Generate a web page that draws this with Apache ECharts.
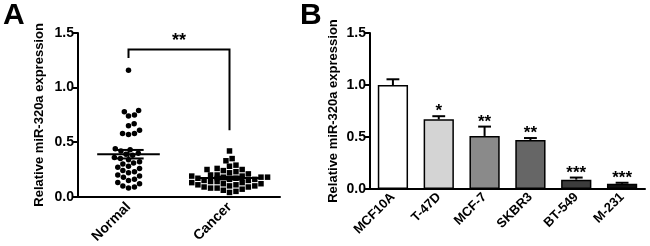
<!DOCTYPE html>
<head>
    <meta charset="utf-8">
    <title>miR-320a expression</title>
    <style>
        html, body { width: 100%; height: 100%; margin: 0; background: #fff; }
        #main { width: 650px; height: 246px; }
    </style>
</head>
<body>
<div id="main"></div>
<script src="https://cdn.jsdelivr.net/npm/echarts@6/dist/echarts.min.js"></script>
<script type="text/javascript">
  // panel A: individual samples
  var groups = ['Normal', 'Cancer'];
  var normalVals = [1.16, 0.79, 0.78, 0.75, 0.74, 0.67, 0.65, 0.61, 0.58, 0.58, 0.57,
    0.44, 0.43, 0.42, 0.40, 0.39, 0.38, 0.36, 0.35, 0.34, 0.32,
    0.31, 0.30, 0.28, 0.27, 0.26, 0.24, 0.23, 0.22, 0.20, 0.19,
    0.18, 0.16, 0.15, 0.13, 0.12, 0.10, 0.09, 0.08];
  var cancerVals = [0.42, 0.35, 0.33, 0.29, 0.28, 0.26, 0.25, 0.25, 0.24, 0.23,
    0.22, 0.21, 0.20, 0.20, 0.19, 0.19, 0.18, 0.18, 0.18, 0.17,
    0.17, 0.16, 0.16, 0.15, 0.15, 0.14, 0.14, 0.13, 0.13, 0.12,
    0.12, 0.11, 0.11, 0.10, 0.10, 0.09, 0.09, 0.08, 0.08, 0.07,
    0.06, 0.05, 0.04];
  // bracket: [from group, to group, top, left leg end, right leg end]
  var bracketA = [1, 2, 1.35, 1.27, 0.61];
  var bracketText = '**';

  // panel B: cell lines
  var cellLines = ['MCF10A', 'T-47D', 'MCF-7', 'SKBR3', 'BT-549', 'M-231'];
  var cellMeans = [1.00, 0.67, 0.51, 0.47, 0.09, 0.05];
  var cellErr = [0.055, 0.03, 0.09, 0.02, 0.02, 0.01];
  var cellStars = ['', '*', '**', '**', '***', '***'];
  var barColors = ['#ffffff', '#d4d4d4', '#8a8a8a', '#666666', '#3c3c3c', '#111111'];

  var myChart = echarts.init(document.getElementById('main'));
  var FONT = 'Liberation Sans, Arial, sans-serif';

  // beeswarm offsets (px), laid out from the values
  function swarm(vals, yScale, D) {
    var order = vals.map(function (v, i) { return i; }).sort(function (a, b) { return vals[a] - vals[b]; });
    var placed = [];
    var out = new Array(vals.length);
    order.forEach(function (i) {
      var y = vals[i] * yScale;
      var near = placed.filter(function (p) { return Math.abs(p.y - y) < D; });
      var cands = [0];
      near.forEach(function (p) {
        var w = Math.sqrt(D * D - (p.y - y) * (p.y - y));
        cands.push(p.x + w, p.x - w);
      });
      cands.sort(function (a, b) { return Math.abs(a) - Math.abs(b); });
      var x = 0;
      for (var c = 0; c < cands.length; c++) {
        var ok = near.every(function (p) {
          var dx = p.x - cands[c], dy = p.y - y;
          return dx * dx + dy * dy >= D * D - 0.01;
        });
        if (ok) { x = cands[c]; break; }
      }
      placed.push({ x: x, y: y });
      out[i] = x;
    });
    return out;
  }

  function meanSem(vals) {
    var n = vals.length, m = 0, s = 0;
    vals.forEach(function (v) { m += v; });
    m /= n;
    vals.forEach(function (v) { s += (v - m) * (v - m); });
    return [m, Math.sqrt(s / (n - 1)) / Math.sqrt(n)];
  }

  var XS = 100, YS = 109.3;
  function swarmData(vals, gx, D) {
    var off = swarm(vals, YS, D);
    return vals.map(function (v, i) { return [gx + off[i] / XS, v]; });
  }
  var statsA = [meanSem(normalVals), meanSem(cancerVals)];

  var yAxisBase = {
    type: 'value', min: 0, max: 1.5, interval: 0.5,
    name: 'Relative miR-320a expression',
    nameLocation: 'middle', nameRotate: 90,
    nameTextStyle: { fontFamily: FONT, fontWeight: 'bold', fontSize: 13, color: '#000' },
    axisLine: { show: true, lineStyle: { color: '#000', width: 2 } },
    axisTick: { show: true, length: 5, lineStyle: { color: '#000', width: 2 } },
    axisLabel: { fontFamily: FONT, fontWeight: 'bold', fontSize: 14, color: '#000', margin: 4,
      formatter: function (v) { return v.toFixed(1); } },
    splitLine: { show: false }
  };

  var option = {
    animation: false,
    grid: [
      { left: 78, right: 370, top: 33, bottom: 49 },
      { left: 370, right: 5, top: 33, bottom: 57 }
    ],
    graphic: [
      { type: 'text', left: 3, top: 1, style: { text: 'A', font: 'bold 30px ' + FONT, fill: '#000' } },
      { type: 'text', left: 300, top: 1, style: { text: 'B', font: 'bold 30px ' + FONT, fill: '#000' } }
    ],
    xAxis: [
      {
        gridIndex: 0, type: 'value', min: 0.5, max: 2.5,
        axisLine: { show: true, onZero: false, lineStyle: { color: '#000', width: 2 } },
        axisTick: { show: false },
        splitLine: { show: false },
        axisLabel: {
          customValues: [1, 2], rotate: 45, margin: 8,
          fontFamily: FONT, fontWeight: 'bold', fontSize: 14, color: '#000',
          formatter: function (v) { return groups[Math.round(v) - 1] || ''; }
        }
      },
      {
        gridIndex: 1, type: 'category', data: cellLines,
        axisLine: { show: true, lineStyle: { color: '#000', width: 2 } },
        axisTick: { show: false },
        axisLabel: { rotate: 45, margin: 6, interval: 0,
          fontFamily: FONT, fontWeight: 'bold', fontSize: 13, color: '#000' }
      }
    ],
    yAxis: [
      Object.assign({ gridIndex: 0, nameGap: 32 }, yAxisBase),
      Object.assign({ gridIndex: 1, nameGap: 30 }, yAxisBase)
    ],
    series: [
      {
        type: 'scatter', xAxisIndex: 0, yAxisIndex: 0, symbol: 'circle', symbolSize: 5.5,
        itemStyle: { color: '#000', opacity: 1 }, data: swarmData(normalVals, 1, 6)
      },
      {
        type: 'scatter', xAxisIndex: 0, yAxisIndex: 0, symbol: 'rect', symbolSize: 5.5,
        itemStyle: { color: '#000', opacity: 1 }, data: swarmData(cancerVals, 2, 6.5)
      },
      {
        // mean line with SEM whiskers
        type: 'custom', xAxisIndex: 0, yAxisIndex: 0, z: 5,
        data: statsA.map(function (s, i) { return [i + 1, s[0], s[1]]; }),
        renderItem: function (params, api) {
          var gx = api.value(0), m = api.value(1), e = api.value(2);
          var L = api.coord([gx - 0.31, m]), R = api.coord([gx + 0.31, m]);
          var top = api.coord([gx, m + e]), bot = api.coord([gx, m - e]);
          var cl = api.coord([gx - 0.15, m])[0], cr = api.coord([gx + 0.15, m])[0];
          var st = { stroke: '#000', lineWidth: 2 };
          return { type: 'group', children: [
            { type: 'line', shape: { x1: L[0], y1: L[1], x2: R[0], y2: R[1] }, style: st },
            { type: 'line', shape: { x1: top[0], y1: top[1], x2: bot[0], y2: bot[1] }, style: st },
            { type: 'line', shape: { x1: cl, y1: top[1], x2: cr, y2: top[1] }, style: st },
            { type: 'line', shape: { x1: cl, y1: bot[1], x2: cr, y2: bot[1] }, style: st }
          ] };
        }
      },
      {
        // significance bracket
        type: 'custom', xAxisIndex: 0, yAxisIndex: 0, z: 5,
        data: [bracketA],
        renderItem: function (params, api) {
          var a = api.coord([api.value(0), api.value(3)]);
          var b = api.coord([api.value(0), api.value(2)]);
          var c = api.coord([api.value(1), api.value(2)]);
          var d = api.coord([api.value(1), api.value(4)]);
          return { type: 'group', children: [
            { type: 'polyline', shape: { points: [a, b, c, d] }, style: { stroke: '#000', lineWidth: 2, fill: null } },
            { type: 'text', x: (b[0] + c[0]) / 2, y: b[1] + 1,
              style: { text: bracketText, font: 'bold 18px ' + FONT, fill: '#000', align: 'center', verticalAlign: 'bottom' } }
          ] };
        }
      },
      {
        type: 'bar', xAxisIndex: 1, yAxisIndex: 1, barWidth: '66%',
        data: cellMeans.map(function (v, i) {
          return { value: v, itemStyle: { color: barColors[i], borderColor: '#000', borderWidth: 1.5 } };
        })
      },
      {
        // upper error bars + stars
        type: 'custom', xAxisIndex: 1, yAxisIndex: 1, z: 5,
        data: cellMeans.map(function (v, i) { return [i, v, cellErr[i]]; }),
        renderItem: function (params, api) {
          var i = api.value(0), m = api.value(1), e = api.value(2);
          var base = api.coord([i, m]), top = api.coord([i, m + e]);
          var half = api.size([1, 0])[0] * 0.14;
          return { type: 'group', children: [
            { type: 'line', shape: { x1: base[0], y1: base[1], x2: top[0], y2: top[1] }, style: { stroke: '#000', lineWidth: 2 } },
            { type: 'line', shape: { x1: top[0] - half, y1: top[1], x2: top[0] + half, y2: top[1] }, style: { stroke: '#000', lineWidth: 2 } },
            { type: 'text', x: top[0], y: top[1] + 4,
              style: { text: cellStars[i], font: 'bold 17px ' + FONT, fill: '#000', align: 'center', verticalAlign: 'bottom' } }
          ] };
        }
      }
    ]
  };
  myChart.setOption(option);
</script>
</body>
